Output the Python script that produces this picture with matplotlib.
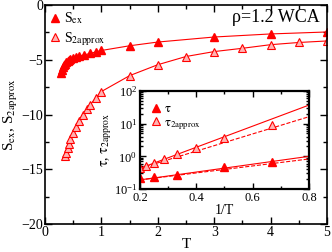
import numpy as np
import matplotlib
matplotlib.use("Agg")
import matplotlib.pyplot as plt
from matplotlib.ticker import MultipleLocator, LogLocator, NullFormatter

plt.rcParams['font.family'] = 'serif'
plt.rcParams['font.serif'] = ['Liberation Serif', 'DejaVu Serif']
plt.rcParams['mathtext.fontset'] = 'stix'

# main panel: excess entropy vs temperature
T_ex = [0.28, 0.30, 0.32, 0.34, 0.36, 0.38, 0.40, 0.42, 0.45, 0.50, 0.55, 0.60,
        0.70, 0.80, 0.90, 1.0, 1.5, 2.0, 3.0, 4.0, 5.0]
S_ex = [-6.2, -5.95, -5.7, -5.5, -5.35, -5.22, -5.12, -5.03, -4.93, -4.83, -4.75, -4.66,
        -4.55, -4.42, -4.28, -4.15, -3.72, -3.38, -2.92, -2.64, -2.46]

T_2a = [0.36, 0.38, 0.40, 0.42, 0.45, 0.50, 0.55, 0.60, 0.67, 0.74, 0.80, 0.90, 1.0,
        1.5, 2.0, 2.5, 3.0, 3.5, 4.0, 4.5, 5.0]
S_2a = [-13.8, -13.5, -13.1, -12.7, -12.2, -11.7, -11.1, -10.6, -10.0, -9.5, -9.1, -8.5, -7.9,
        -6.45, -5.45, -4.7, -4.25, -3.95, -3.62, -3.42, -3.28]

# inset: relaxation time vs 1/T
invT_tau = [0.2, 0.25, 0.333, 0.5, 0.667]
tau = [0.21, 0.23, 0.27, 0.46, 0.69]
invT_tau2 = [0.2, 0.222, 0.25, 0.286, 0.333, 0.4, 0.5, 0.667]
tau2 = [0.43, 0.5, 0.62, 0.8, 1.16, 1.8, 3.6, 9.1]

# fit lines (solid / dashed) read at the inset edges
fit_x = [0.2, 0.8]
tau_fit = [0.19, 1.0]
tau_fit_d = [0.19, 0.83]
tau2_fit = [0.43, 37.0]
tau2_fit_d = [0.43, 16.3]

red = '#ff0000'
pink = '#ffb3b3'

fig = plt.figure(figsize=(3.32, 2.52), dpi=100)
ax = fig.add_axes([0.1355, 0.111, 0.8495, 0.869])

ax.plot(T_ex, S_ex, '-', color=red, lw=0.8)
ax.plot(T_2a, S_2a, '-', color=red, lw=0.8)
ax.plot(T_ex, S_ex, '^', color=red, ms=5.5, mec=red, ls='none', label=r'S$_{\mathrm{ex}}$')
ax.plot(T_2a, S_2a, '^', color=red, ms=5.5, mfc=pink, mec=red, mew=0.8, ls='none',
        label=r'S$_{\mathrm{2approx}}$')

ax.set_xlim(0, 5)
ax.set_ylim(-20, 0)
ax.xaxis.set_major_locator(MultipleLocator(1))
ax.xaxis.set_minor_locator(MultipleLocator(0.5))
ax.yaxis.set_major_locator(MultipleLocator(5))
ax.yaxis.set_minor_locator(MultipleLocator(2.5))
ax.tick_params(which='both', direction='in', top=True, right=True, labelsize=10, width=1, pad=1.5)
ax.tick_params(which='major', length=5)
ax.tick_params(which='minor', length=3)
for s in ax.spines.values():
    s.set_linewidth(1.2)
ax.set_xlabel('T', fontsize=11, labelpad=-1)
ax.set_ylabel(r'S$_{\mathrm{ex}}$, S$_{\mathrm{2approx}}$', fontsize=11, labelpad=1)
ax.text(0.82, 0.945, 'ρ=1.2 WCA', transform=ax.transAxes, fontsize=13, ha='center', va='center')
ax.legend(loc='upper left', frameon=False, fontsize=10, handlelength=0.6, handletextpad=0.4,
          borderaxespad=0.1, labelspacing=0.25, numpoints=1, borderpad=0.3)

# inset
ins = fig.add_axes([0.4217, 0.25, 0.509, 0.389])
ins.plot(fit_x, tau_fit, '-', color=red, lw=0.8)
ins.plot(fit_x, tau_fit_d, '--', color=red, lw=0.8)
ins.plot(fit_x, tau2_fit, '-', color=red, lw=0.8)
ins.plot(fit_x, tau2_fit_d, '--', color=red, lw=0.8)
ins.plot(invT_tau, tau, '^', color=red, ms=5.5, ls='none', label=r'$\mathrm{\tau}$')
ins.plot(invT_tau2, tau2, '^', color=red, ms=5.5, mfc=pink, mec=red, mew=0.8, ls='none',
         label=r'$\mathrm{\tau}_{\mathrm{2approx}}$')
ins.set_yscale('log')
ins.set_xlim(0.2, 0.8)
ins.set_ylim(0.1, 100)
ins.xaxis.set_major_locator(MultipleLocator(0.2))
ins.xaxis.set_minor_locator(MultipleLocator(0.1))
ins.yaxis.set_major_locator(LogLocator(base=10, numticks=10))
ins.yaxis.set_minor_locator(LogLocator(base=10, subs=np.arange(2, 10), numticks=10))
ins.yaxis.set_minor_formatter(NullFormatter())
ins.tick_params(which='both', direction='in', top=True, right=True, labelsize=9, width=1, pad=2)
ins.tick_params(which='major', length=4)
ins.tick_params(which='minor', length=2.5)
for s in ins.spines.values():
    s.set_linewidth(1.6)
ins.set_xlabel('1/T', fontsize=10, labelpad=0)
ins.set_ylabel(r'$\mathrm{\tau}$, $\mathrm{\tau}_{\mathrm{2approx}}$', fontsize=10, labelpad=0)
ins.legend(loc='upper left', frameon=False, fontsize=9, handlelength=0.6, handletextpad=0.3,
           borderaxespad=0.5, labelspacing=0.1, numpoints=1, borderpad=0.5)

fig.savefig('out.png', dpi=100)
